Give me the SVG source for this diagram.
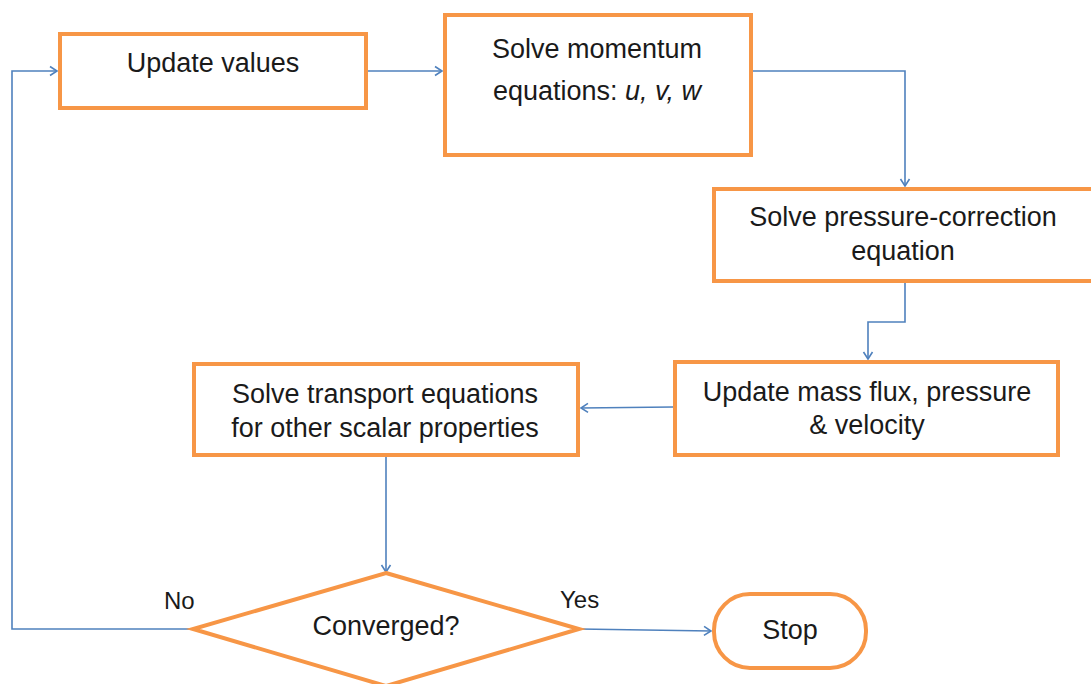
<svg xmlns="http://www.w3.org/2000/svg" width="1091" height="684" viewBox="0 0 1091 684">
<defs>
<style>
.box{fill:#fff;stroke:#F79646;stroke-width:4}
.t{font-family:"Liberation Sans",Arial,sans-serif;font-size:27px;fill:#1a1a1a;text-anchor:middle}
.lbl{font-family:"Liberation Sans",Arial,sans-serif;font-size:24px;fill:#1a1a1a}
.c{fill:none;stroke:#4F81BD;stroke-width:1.6}
</style>
<marker id="ah" markerWidth="12" markerHeight="12" refX="10" refY="6" orient="auto" markerUnits="userSpaceOnUse">
<path d="M3,1.5 L10,6 L3,10.5" fill="none" stroke="#4F81BD" stroke-width="1.6"/>
</marker>
</defs>
<rect width="1091" height="684" fill="#fff"/>
<g id="connectors">
<path class="c" d="M193,629 H12 V71 H57" marker-end="url(#ah)"/>
<path class="c" d="M368,71 H442" marker-end="url(#ah)"/>
<path class="c" d="M753,71 H905 V186" marker-end="url(#ah)"/>
<path class="c" d="M905,283 V322 H868 V359" marker-end="url(#ah)"/>
<path class="c" d="M673,407 L581,408" marker-end="url(#ah)"/>
<path class="c" d="M386,457 V572" marker-end="url(#ah)"/>
<path class="c" d="M579,629 L711,631" marker-end="url(#ah)"/>
</g>
<g id="update-values">
<rect class="box" x="60" y="34" width="306" height="74"/>
<text class="t" x="213" y="72">Update values</text>
</g>
<g id="solve-momentum">
<rect class="box" x="445" y="15" width="306" height="140"/>
<text class="t" x="597" y="58">Solve momentum</text>
<text class="t" x="597" y="100">equations: <tspan font-style="italic">u, v, w</tspan></text>
</g>
<g id="pressure-correction">
<rect class="box" x="714" y="189" width="382" height="92"/>
<text class="t" x="903" y="226">Solve pressure-correction</text>
<text class="t" x="903" y="260">equation</text>
</g>
<g id="update-mass-flux">
<rect class="box" x="675" y="362" width="383" height="93"/>
<text class="t" x="867" y="401">Update mass flux, pressure</text>
<text class="t" x="867" y="434">&amp; velocity</text>
</g>
<g id="solve-transport">
<rect class="box" x="194" y="364" width="384" height="91"/>
<text class="t" x="385" y="403">Solve transport equations</text>
<text class="t" x="385" y="437">for other scalar properties</text>
</g>
<g id="converged">
<polygon class="box" points="386,573 579,629 386,686 193,629"/>
<text class="t" x="386" y="635">Converged?</text>
<text class="lbl" x="164" y="609">No</text>
<text class="lbl" x="560" y="608">Yes</text>
</g>
<g id="stop">
<rect class="box" x="714" y="594" width="152" height="74" rx="36" ry="36"/>
<text class="t" x="790" y="639">Stop</text>
</g>
</svg>
